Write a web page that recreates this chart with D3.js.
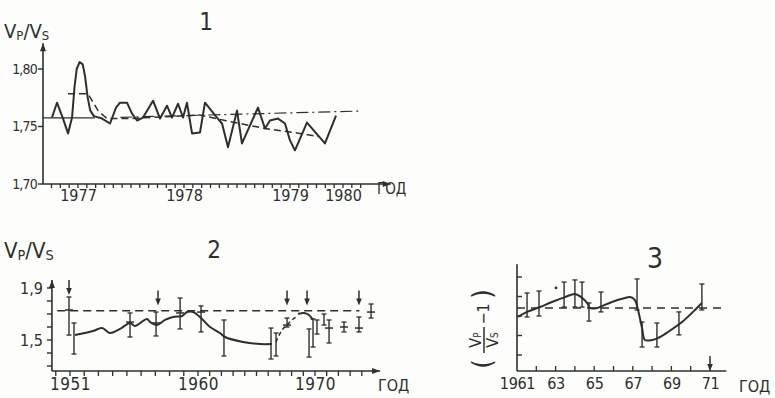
<!DOCTYPE html>
<html>
<head>
<meta charset="utf-8">
<script src="https://cdn.jsdelivr.net/npm/d3@7"></script>
<style>
  body { margin: 0; background: #fdfdfb; }
  svg { display: block; }
  text { font-family: "Liberation Sans Narrow", "DejaVu Sans Condensed", sans-serif; fill: #2b302c; }
</style>
</head>
<body>
<script>
const width = 775;
const height = 398;
const ink = '#2b302c';

// ---- panel 1: Vp/Vs, 1977-1980
const p1YearLabels = ['1977', '1978', '1979', '1980'];
const p1YearPos = [1977.5, 1978.5, 1979.5, 1980.0];
const p1YTicks = [1.70, 1.75, 1.80];
const p1Solid = [
  [1977.255, 1.7578], [1977.302, 1.7707], [1977.359, 1.7569], [1977.406, 1.7440],
  [1977.444, 1.7578], [1977.468, 1.7850], [1977.488, 1.8000], [1977.515, 1.8060],
  [1977.545, 1.8040], [1977.568, 1.7930], [1977.590, 1.7760], [1977.615, 1.7640],
  [1977.650, 1.7590], [1977.727, 1.7569],
  [1977.802, 1.7526], [1977.859, 1.7664], [1977.896, 1.7707], [1977.962, 1.7707],
  [1978.010, 1.7612], [1978.057, 1.7552], [1978.113, 1.7578], [1978.208, 1.7724],
  [1978.274, 1.7569], [1978.340, 1.7681], [1978.387, 1.7578], [1978.444, 1.7698],
  [1978.491, 1.7578], [1978.528, 1.7707], [1978.576, 1.7440], [1978.651, 1.7448],
  [1978.698, 1.7707], [1978.811, 1.7578], [1978.859, 1.7526], [1978.915, 1.7319],
  [1979.000, 1.7638], [1979.047, 1.7353], [1979.198, 1.7664], [1979.264, 1.7483],
  [1979.311, 1.7552], [1979.387, 1.7569], [1979.453, 1.7526], [1979.500, 1.7379],
  [1979.547, 1.7293], [1979.660, 1.7534], [1979.830, 1.7353], [1979.934, 1.7595]
];
const p1Trend = [
  [1977.406, 1.7784], [1977.595, 1.7784], [1977.689, 1.7638], [1977.774, 1.7569],
  [1978.000, 1.7570], [1978.651, 1.7600], [1978.887, 1.7552], [1979.264, 1.7483],
  [1979.594, 1.7440], [1979.764, 1.7414]
];
const p1Mean = [[1977.17, 1.7575], [1977.66, 1.7575]];
const p1Level = [[1977.90, 1.7580], [1980.18, 1.7635]];

// ---- panel 2: Vp/Vs, 1951-1974
const p2YearLabels = ['1951', '1960', '1970'];
const p2YearPos = [1951, 1960, 1970];
const p2YTicks = [1.3, 1.4, 1.5, 1.6, 1.7, 1.8, 1.9];
const p2YLabelled = [1.5, 1.9];
const p2Line = [
  [1951.35, 1.538], [1952.62, 1.569], [1953.25, 1.592], [1953.81, 1.554],
  [1954.52, 1.585], [1955.22, 1.631], [1955.57, 1.608], [1956.41, 1.662],
  [1956.63, 1.638], [1957.12, 1.615], [1957.68, 1.654], [1958.24, 1.677],
  [1958.88, 1.685], [1959.23, 1.715], [1959.65, 1.715], [1960.34, 1.662],
  [1961.03, 1.600], [1961.88, 1.554], [1962.31, 1.523], [1963.85, 1.485],
  [1965.30, 1.469], [1966.32, 1.469]
];
const p2Link = [[1966.67, 1.485], [1967.18, 1.577], [1967.61, 1.615], [1968.03, 1.654], [1968.55, 1.685]];
const p2Arc = [[1968.55, 1.700], [1969.06, 1.708], [1969.49, 1.692], [1969.83, 1.654]];
// [year, low, high, mid]
const p2Bars = [
  [1950.93, 1.538, 1.831, 1.731], [1951.28, 1.392, 1.631, null],
  [1955.22, 1.523, 1.708, 1.638], [1957.05, 1.531, 1.715, 1.631],
  [1958.74, 1.585, 1.823, 1.708], [1960.26, 1.562, 1.762, 1.715],
  [1962.22, 1.377, 1.654, null], [1966.24, 1.354, 1.592, null],
  [1966.67, 1.377, 1.554, null], [1967.61, 1.600, 1.669, 1.615],
  [1969.49, 1.369, 1.585, null], [1969.83, 1.446, 1.662, null],
  [1970.17, 1.546, 1.654, null], [1970.77, 1.615, 1.700, null],
  [1971.20, 1.477, 1.654, 1.592], [1972.48, 1.562, 1.638, 1.600],
  [1973.76, 1.562, 1.677, 1.592], [1974.79, 1.669, 1.777, 1.715]
];
const p2Level = [[1950.1, 1.725], [1973.8, 1.725]];
const p2Arrows = [1950.93, 1957.19, 1967.61, 1969.32, 1973.76];
const p2ArrowTips = [1.846, 1.765, 1.765, 1.765, 1.765];

// ---- panel 3: (Vp/Vs - 1), 1961-1971, relative units
const p3YearLabels = ['1961', '63', '65', '67', '69', '71'];
const p3YearPos = [1961, 1963, 1965, 1967, 1969, 1971];
const p3YTicks = [1, 2, 3, 4, 5];
const p3Line = [
  [1961.05, 2.95], [1961.52, 3.21], [1962.19, 3.46], [1962.81, 3.72],
  [1963.49, 3.97], [1964.00, 4.13], [1964.32, 3.97], [1964.63, 3.67],
  [1964.78, 3.41], [1965.15, 3.41], [1965.40, 3.51], [1965.92, 3.72],
  [1966.60, 3.92], [1966.85, 3.97], [1967.11, 3.82], [1967.27, 3.31],
  [1967.48, 2.38], [1967.63, 1.77], [1968.00, 1.77], [1968.30, 1.87],
  [1968.82, 2.18], [1969.55, 2.69], [1970.22, 3.31], [1970.58, 3.67]
];
// [year, low, high]
const p3Bars = [
  [1961.52, 2.95, 4.18], [1962.14, 3.00, 4.28], [1963.44, 3.46, 4.74],
  [1964.00, 3.46, 4.85], [1964.37, 3.46, 4.74], [1964.73, 2.74, 3.67],
  [1965.35, 3.21, 4.23], [1967.22, 3.31, 4.90], [1967.48, 1.41, 2.69],
  [1968.25, 1.41, 2.64], [1969.39, 2.03, 3.21], [1970.58, 3.31, 4.64]
];
const p3Dots = [[1963.02, 4.44]];
const p3Level = [[1961.0, 3.41], [1971.85, 3.41]];
const p3Arrows = [1971];

const comma = f => d => d3.format(f)(d).replace('.', ',');

const svg = d3.select('body')
  .append('svg')
  .attr('width', width)
  .attr('height', height)
  .style('background', '#fdfdfb');

function arrowUp(g, x, y) {
  g.append('path').attr('d', `M${x},${y}L${x - 3},${y + 8}L${x + 3},${y + 8}Z`).attr('fill', ink);
}
function arrowRight(g, x, y) {
  g.append('path').attr('d', `M${x},${y}L${x - 8},${y - 3}L${x - 8},${y + 3}Z`).attr('fill', ink);
}
function arrowDown(g, x, yTip, len) {
  g.append('line').attr('x1', x).attr('x2', x).attr('y1', yTip - len).attr('y2', yTip - 5)
    .attr('stroke', ink).attr('stroke-width', 1.5);
  g.append('path').attr('d', `M${x},${yTip}L${x - 2.8},${yTip - 7}L${x + 2.8},${yTip - 7}Z`).attr('fill', ink);
}
function vpvs(g, x, y, size) {
  const t = g.append('text').attr('x', x).attr('y', y).attr('font-size', size);
  t.append('tspan').text('V');
  t.append('tspan').attr('font-size', size * 0.65).attr('dy', size * 0.1).text('P');
  t.append('tspan').attr('dy', -size * 0.1).text('/');
  t.append('tspan').text('V');
  t.append('tspan').attr('font-size', size * 0.65).attr('dy', size * 0.1).text('S');
}
// tick marks: len > 0 down/right, len < 0 up/left
function xTicks(g, scale, values, y0, len) {
  g.append('g').attr('class', 'xticks').selectAll('line').data(values).join('line')
    .attr('x1', d => scale(d)).attr('x2', d => scale(d))
    .attr('y1', y0).attr('y2', y0 + len)
    .attr('stroke', ink).attr('stroke-width', 1.3);
}
function yTicks(g, scale, values, x0, len) {
  g.append('g').attr('class', 'yticks').selectAll('line').data(values).join('line')
    .attr('x1', x0).attr('x2', x0 + len)
    .attr('y1', d => scale(d)).attr('y2', d => scale(d))
    .attr('stroke', ink).attr('stroke-width', 1.4);
}
function labelAxis(sel, size) {
  sel.select('.domain').remove();
  sel.selectAll('.tick line').remove();
  sel.selectAll('text').attr('fill', ink).attr('font-family', null).attr('font-size', size);
}

// ================= panel 1
const g1 = svg.append('g');
const x1 = d3.scaleLinear().domain([1977.17, 1980.5]).range([43, 396]);
const y1 = d3.scaleLinear().domain([1.70, 1.80]).range([184, 69]);
const l1 = d3.line().x(d => x1(d[0])).y(d => y1(d[1]));

g1.append('g').attr('transform', `translate(0,${y1(1.70)})`)
  .call(d3.axisBottom(x1).tickValues(p1YearPos).tickSize(0).tickPadding(6)
    .tickFormat((d, i) => p1YearLabels[i]))
  .call(labelAxis, 16);
g1.append('g').attr('transform', `translate(${x1(1977.17)},0)`)
  .call(d3.axisLeft(y1).tickValues(p1YTicks).tickSize(5).tickPadding(1).tickFormat(comma('.2f')))
  .call(labelAxis, 14)
  .selectAll('text').attr('letter-spacing', -0.8);

g1.append('line').attr('x1', x1(1977.17)).attr('x2', x1(1977.17)).attr('y1', y1(1.70)).attr('y2', y1(1.8225))
  .attr('stroke', ink).attr('stroke-width', 1.6);
arrowUp(g1, x1(1977.17), y1(1.8225));
g1.append('line').attr('x1', x1(1977.17)).attr('x2', x1(1980.45)).attr('y1', y1(1.70)).attr('y2', y1(1.70))
  .attr('stroke', ink).attr('stroke-width', 1.6);
arrowRight(g1, x1(1980.45), y1(1.70));
xTicks(g1, x1, d3.range(1977.25, 1980.25, 1 / 12), y1(1.70), 4);
yTicks(g1, y1, p1YTicks, x1(1977.17), -5);

g1.append('path').attr('d', l1(p1Mean)).attr('fill', 'none').attr('stroke', ink).attr('stroke-width', 1.2);
g1.append('path').attr('d', l1(p1Level)).attr('fill', 'none').attr('stroke', ink).attr('stroke-width', 1.2)
  .attr('stroke-dasharray', '12,4,2,4');
g1.append('path').attr('d', l1(p1Trend)).attr('fill', 'none').attr('stroke', ink).attr('stroke-width', 1.5)
  .attr('stroke-dasharray', '7,4');
g1.append('path').attr('d', l1(p1Solid)).attr('fill', 'none').attr('stroke', ink).attr('stroke-width', 2)
  .attr('stroke-linejoin', 'round');

vpvs(g1, 4, 38, 20);
g1.append('text').attr('x', 206).attr('y', 30).attr('font-size', 24).attr('text-anchor', 'middle').text('1');
g1.append('text').attr('x', 377).attr('y', 194).attr('font-size', 15).text('ГОД');

// ================= panel 2
const g2 = svg.append('g');
const x2 = d3.scaleLinear().domain(p2YearPos).range([70, 198, 315]);
const y2 = d3.scaleLinear().domain([1.5, 1.9]).range([340, 288]);
const l2 = d3.line().x(d => x2(d[0])).y(d => y2(d[1]));
const yBase2 = 1.2615;

g2.append('g').attr('transform', `translate(0,${y2(yBase2)})`)
  .call(d3.axisBottom(x2).tickValues(p2YearPos).tickSize(0).tickPadding(7)
    .tickFormat((d, i) => p2YearLabels[i]))
  .call(labelAxis, 17)
  .selectAll('text').attr('letter-spacing', 0.5);
g2.append('g').attr('transform', `translate(${x2(1949.73)},0)`)
  .call(d3.axisLeft(y2).tickValues(p2YLabelled).tickSize(5).tickPadding(4).tickFormat(comma('.1f')))
  .call(labelAxis, 16);

g2.append('line').attr('x1', x2(1949.73)).attr('x2', x2(1949.73)).attr('y1', y2(yBase2)).attr('y2', y2(1.9615))
  .attr('stroke', ink).attr('stroke-width', 1.6);
arrowUp(g2, x2(1949.73), y2(1.9615));
g2.append('line').attr('x1', x2(1949.73)).attr('x2', x2(1975.56)).attr('y1', y2(yBase2)).attr('y2', y2(yBase2))
  .attr('stroke', ink).attr('stroke-width', 1.6);
arrowRight(g2, x2(1975.56), y2(yBase2));
xTicks(g2, x2, d3.range(1950, 1975), y2(yBase2), 5);
yTicks(g2, y2, p2YTicks, x2(1949.73), -5);

g2.append('path').attr('d', l2(p2Level)).attr('fill', 'none').attr('stroke', ink).attr('stroke-width', 1.3)
  .attr('stroke-dasharray', '8,5');
g2.append('path').attr('d', l2.curve(d3.curveCatmullRom.alpha(0.5))(p2Line)).attr('fill', 'none')
  .attr('stroke', ink).attr('stroke-width', 2);
g2.append('path').attr('d', l2(p2Link)).attr('fill', 'none').attr('stroke', ink).attr('stroke-width', 1.5)
  .attr('stroke-dasharray', '4,3');
g2.append('path').attr('d', l2(p2Arc)).attr('fill', 'none').attr('stroke', ink).attr('stroke-width', 2);

const bars2 = g2.selectAll('g.bar').data(p2Bars).join('g').attr('class', 'bar');
bars2.append('line').attr('x1', d => x2(d[0])).attr('x2', d => x2(d[0]))
  .attr('y1', d => y2(d[1])).attr('y2', d => y2(d[2])).attr('stroke', ink).attr('stroke-width', 1.4);
bars2.append('line').attr('x1', d => x2(d[0]) - 2.5).attr('x2', d => x2(d[0]) + 2.5)
  .attr('y1', d => y2(d[1])).attr('y2', d => y2(d[1])).attr('stroke', ink).attr('stroke-width', 1.3);
bars2.append('line').attr('x1', d => x2(d[0]) - 2.5).attr('x2', d => x2(d[0]) + 2.5)
  .attr('y1', d => y2(d[2])).attr('y2', d => y2(d[2])).attr('stroke', ink).attr('stroke-width', 1.3);
bars2.filter(d => d[3] !== null).append('line')
  .attr('x1', d => x2(d[0]) - 4).attr('x2', d => x2(d[0]) + 4)
  .attr('y1', d => y2(d[3])).attr('y2', d => y2(d[3])).attr('stroke', ink).attr('stroke-width', 1.5);

p2Arrows.forEach((t, i) => arrowDown(g2, x2(t), y2(p2ArrowTips[i]), 15));

vpvs(g2, 4, 258, 22);
g2.append('text').attr('x', 214).attr('y', 258).attr('font-size', 24).attr('text-anchor', 'middle').text('2');
g2.append('text').attr('x', 378).attr('y', 391).attr('font-size', 16).text('ГОД');

// ================= panel 3
const g3 = svg.append('g');
const x3 = d3.scaleLinear().domain([1961, 1971]).range([517, 710]);
const y3 = d3.scaleLinear().domain([0, 5]).range([374.5, 277]);
const l3 = d3.line().x(d => x3(d[0])).y(d => y3(d[1]));
const yBase3 = 0.18;

g3.append('g').attr('transform', `translate(0,${y3(yBase3)})`)
  .call(d3.axisBottom(x3).tickValues(p3YearPos).tickSize(0).tickPadding(7)
    .tickFormat((d, i) => p3YearLabels[i]))
  .call(labelAxis, 16)
  .selectAll('text').attr('letter-spacing', -0.3);

g3.append('line').attr('x1', x3(1961)).attr('x2', x3(1961)).attr('y1', y3(yBase3)).attr('y2', y3(5.65))
  .attr('stroke', ink).attr('stroke-width', 1.6);
g3.append('line').attr('x1', x3(1961)).attr('x2', x3(1971.85)).attr('y1', y3(yBase3)).attr('y2', y3(yBase3))
  .attr('stroke', ink).attr('stroke-width', 1.6);
xTicks(g3, x3, d3.range(1962, 1972), y3(yBase3), -5);
yTicks(g3, y3, p3YTicks, x3(1961), 5);

g3.append('path').attr('d', l3(p3Level)).attr('fill', 'none').attr('stroke', ink).attr('stroke-width', 1.3)
  .attr('stroke-dasharray', '8,6');
g3.append('path').attr('d', l3.curve(d3.curveCatmullRom.alpha(0.5))(p3Line)).attr('fill', 'none')
  .attr('stroke', ink).attr('stroke-width', 2);

const bars3 = g3.selectAll('g.bar').data(p3Bars).join('g').attr('class', 'bar');
bars3.append('line').attr('x1', d => x3(d[0])).attr('x2', d => x3(d[0]))
  .attr('y1', d => y3(d[1])).attr('y2', d => y3(d[2])).attr('stroke', ink).attr('stroke-width', 1.4);
bars3.append('line').attr('x1', d => x3(d[0]) - 2.5).attr('x2', d => x3(d[0]) + 2.5)
  .attr('y1', d => y3(d[1])).attr('y2', d => y3(d[1])).attr('stroke', ink).attr('stroke-width', 1.3);
bars3.append('line').attr('x1', d => x3(d[0]) - 2.5).attr('x2', d => x3(d[0]) + 2.5)
  .attr('y1', d => y3(d[2])).attr('y2', d => y3(d[2])).attr('stroke', ink).attr('stroke-width', 1.3);
g3.selectAll('circle.dot').data(p3Dots).join('circle').attr('class', 'dot')
  .attr('cx', d => x3(d[0])).attr('cy', d => y3(d[1])).attr('r', 1.4).attr('fill', ink);

p3Arrows.forEach(t => arrowDown(g3, x3(t), y3(yBase3), 15));

// rotated (Vp/Vs - 1)
const lab = g3.append('g').attr('transform', 'translate(484,326) rotate(-90)');
lab.append('text').attr('x', -38).attr('y', 7).attr('font-size', 27).attr('text-anchor', 'middle').text('(');
const num = lab.append('text').attr('x', -14).attr('y', -3).attr('font-size', 16).attr('text-anchor', 'middle');
num.append('tspan').text('V');
num.append('tspan').attr('font-size', 10).text('P');
lab.append('line').attr('x1', -27).attr('x2', -1).attr('y1', 0).attr('y2', 0).attr('stroke', ink).attr('stroke-width', 1.5);
const den = lab.append('text').attr('x', -14).attr('y', 14).attr('font-size', 16).attr('text-anchor', 'middle');
den.append('tspan').text('V');
den.append('tspan').attr('font-size', 10).text('S');
lab.append('text').attr('x', 12).attr('y', 5).attr('font-size', 16).attr('text-anchor', 'middle').text('−1');
lab.append('text').attr('x', 32).attr('y', 7).attr('font-size', 27).attr('text-anchor', 'middle').text(')');

g3.append('text').attr('x', 655).attr('y', 268).attr('font-size', 28).attr('text-anchor', 'middle').text('3');
g3.append('text').attr('x', 739).attr('y', 392).attr('font-size', 16).text('ГОД');
</script>
</body>
</html>
